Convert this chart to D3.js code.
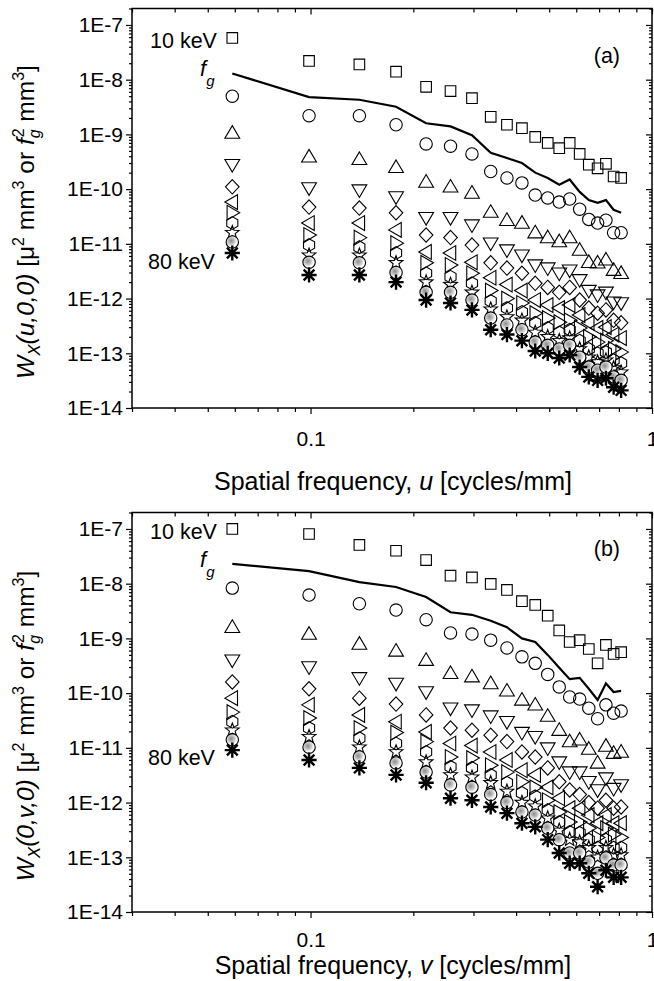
<!DOCTYPE html>
<html>
<head>
<meta charset="utf-8">
<script src="https://cdnjs.cloudflare.com/ajax/libs/d3/7.8.5/d3.min.js"></script>
<style>
  body { margin: 0; background: #fff; }
  svg text { font-family: "Liberation Sans", Arial, sans-serif; fill: #000; }
</style>
</head>
<body>
<svg id="chart" width="654" height="981"></svg>
<script>
// spatial frequency columns (cycles/mm)
const freq = [0.059, 0.099, 0.139, 0.178, 0.218, 0.257, 0.297, 0.337, 0.376, 0.416,
  0.455, 0.495, 0.535, 0.574, 0.614, 0.653, 0.693, 0.733, 0.772, 0.812];

const energies = ["10 keV", "15 keV", "20 keV", "25 keV", "30 keV", "35 keV",
  "40 keV", "50 keV", "60 keV", "70 keV", "80 keV"];
const shapes = ["square", "circle", "triUp", "triDown", "diamond", "triLeft",
  "triRight", "hexagon", "star", "sphere", "asterisk"];

// (a) W_X(u,0,0)
const fgU = [1.3e-8, 4.8e-9, 4.3e-9, 3.2e-9, 1.6e-9, 1.4e-9, 9.7e-10, 4.6e-10, 3.7e-10, 3.0e-10,
  2.0e-10, 1.6e-10, 1.2e-10, 1.5e-10, 8.9e-11, 6.3e-11, 5.6e-11, 6.3e-11, 4.2e-11, 3.7e-11];
const wU10 = [5.8e-8, 2.2e-8, 1.9e-8, 1.4e-8, 7.4e-9, 6.2e-9, 4.6e-9, 2.1e-9, 1.5e-9, 1.3e-9,
  9.0e-10, 7.0e-10, 5.6e-10, 7.0e-10, 4.4e-10, 2.8e-10, 2.4e-10, 2.9e-10, 1.7e-10, 1.6e-10];
const wU15 = [5.0e-9, 2.2e-9, 2.2e-9, 1.5e-9, 6.7e-10, 6.1e-10, 4.4e-10, 2.1e-10, 1.6e-10, 1.3e-10,
  7.8e-11, 6.9e-11, 5.8e-11, 6.6e-11, 4.3e-11, 2.8e-11, 2.4e-11, 2.7e-11, 1.6e-11, 1.6e-11];
const wU20 = [1.06e-9, 3.9e-10, 3.5e-10, 2.5e-10, 1.35e-10, 1.1e-10, 8.5e-11, 3.8e-11, 2.7e-11, 2.4e-11,
  1.6e-11, 1.3e-11, 1.1e-11, 1.3e-11, 7.7e-12, 4.6e-12, 4.5e-12, 5.1e-12, 3.3e-12, 2.9e-12];
const wU25 = [2.8e-10, 1.05e-10, 9.6e-11, 7.2e-11, 3.0e-11, 3.0e-11, 2.2e-11, 1.03e-11, 7.7e-12, 6.2e-12,
  4.1e-12, 3.6e-12, 2.9e-12, 3.3e-12, 2.2e-12, 1.4e-12, 1.16e-12, 1.3e-12, 8.6e-13, 8.3e-13];
const wU30 = [1.1e-10, 4.7e-11, 4.5e-11, 3.7e-11, 1.45e-11, 1.3e-11, 9.5e-12, 4.5e-12, 3.6e-12, 2.9e-12,
  1.9e-12, 1.6e-12, 1.3e-12, 1.6e-12, 9.4e-13, 6.7e-13, 5.4e-13, 6.2e-13, 4.0e-13, 3.6e-13];
const wU35 = [5.8e-11, 2.4e-11, 2.4e-11, 1.8e-11, 7.1e-12, 6.8e-12, 4.6e-12, 2.4e-12, 1.8e-12, 1.4e-12,
  9.4e-13, 7.6e-13, 6.7e-13, 7.6e-13, 5.0e-13, 3.6e-13, 2.9e-13, 3.0e-13, 2.2e-13, 1.9e-13];
const wU40 = [3.7e-11, 1.45e-11, 1.3e-11, 1.03e-11, 4.5e-12, 4.1e-12, 2.9e-12, 1.4e-12, 1.0e-12, 8.3e-13,
  5.4e-13, 4.4e-13, 3.7e-13, 4.0e-13, 2.9e-13, 2.0e-13, 1.6e-13, 1.7e-13, 1.2e-13, 1.05e-13];
const wU50 = [2.4e-11, 9.5e-12, 8.7e-12, 6.8e-12, 2.9e-12, 2.5e-12, 1.9e-12, 9.0e-13, 6.7e-13, 5.7e-13,
  3.6e-13, 2.9e-13, 2.4e-13, 2.7e-13, 1.7e-13, 1.2e-13, 1.0e-13, 1.05e-13, 7.5e-14, 6.6e-14];
const wU60 = [1.6e-11, 6.2e-12, 6.2e-12, 4.5e-12, 2.0e-12, 1.8e-12, 1.3e-12, 6.4e-13, 4.6e-13, 4.0e-13,
  2.4e-13, 2.0e-13, 1.7e-13, 1.9e-13, 1.2e-13, 8.5e-14, 6.9e-14, 7.5e-14, 5.4e-14, 4.5e-14];
const wU70 = [1.08e-11, 4.6e-12, 4.5e-12, 3.0e-12, 1.3e-12, 1.3e-12, 9.4e-13, 4.4e-13, 3.3e-13, 2.7e-13,
  1.6e-13, 1.4e-13, 1.2e-13, 1.4e-13, 8.5e-14, 5.6e-14, 4.9e-14, 5.6e-14, 3.7e-14, 3.2e-14];
const wU80 = [6.8e-12, 2.7e-12, 2.7e-12, 2.0e-12, 9.4e-13, 8.3e-13, 6.2e-13, 2.7e-13, 2.2e-13, 1.7e-13,
  1.1e-13, 1.0e-13, 8.2e-14, 9.3e-14, 5.6e-14, 3.7e-14, 3.2e-14, 3.5e-14, 2.4e-14, 2.1e-14];

// (b) W_X(0,v,0)
const fgV = [2.3e-8, 1.7e-8, 1.07e-8, 8.7e-9, 5.7e-9, 3.0e-9, 2.7e-9, 2.1e-9, 1.6e-9, 1.0e-9,
  8.6e-10, 5.0e-10, 2.9e-10, 1.8e-10, 1.9e-10, 1.2e-10, 7.5e-11, 1.5e-10, 1.05e-10, 1.1e-10];
const wV10 = [1.0e-7, 8.1e-8, 5.1e-8, 4.0e-8, 2.7e-8, 1.4e-8, 1.3e-8, 9.9e-9, 7.7e-9, 4.8e-9,
  4.1e-9, 2.6e-9, 1.4e-9, 8.6e-10, 9.3e-10, 6.4e-10, 3.5e-10, 7.6e-10, 5.2e-10, 5.6e-10];
const wV15 = [8.3e-9, 6.2e-9, 4.3e-9, 3.3e-9, 2.2e-9, 1.26e-9, 1.2e-9, 9.3e-10, 6.7e-10, 4.6e-10,
  3.5e-10, 2.2e-10, 1.3e-10, 8.5e-11, 7.8e-11, 5.3e-11, 3.4e-11, 6.1e-11, 4.3e-11, 4.7e-11];
const wV20 = [1.6e-9, 1.2e-9, 7.9e-10, 5.9e-10, 4.0e-10, 2.3e-10, 2.0e-10, 1.5e-10, 1.1e-10, 7.5e-11,
  6.1e-11, 3.8e-11, 2.1e-11, 1.3e-11, 1.4e-11, 9.5e-12, 5.3e-12, 1.08e-11, 8.0e-12, 8.4e-12];
const wV25 = [4.0e-10, 3.0e-10, 1.9e-10, 1.5e-10, 1.05e-10, 5.3e-11, 4.9e-11, 3.8e-11, 3.0e-11, 1.9e-11,
  1.6e-11, 9.9e-12, 5.5e-12, 3.6e-12, 3.6e-12, 2.4e-12, 1.7e-12, 2.8e-12, 1.8e-12, 2.1e-12];
const wV30 = [1.6e-10, 1.2e-10, 8.1e-11, 6.3e-11, 4.0e-11, 2.3e-11, 2.1e-11, 1.7e-11, 1.3e-11, 8.4e-12,
  6.8e-12, 4.3e-12, 2.4e-12, 1.7e-12, 1.4e-12, 1.0e-12, 7.9e-13, 1.1e-12, 7.9e-13, 8.3e-13];
const wV35 = [8.1e-11, 6.1e-11, 4.0e-11, 3.0e-11, 1.95e-11, 1.2e-11, 1.1e-11, 8.4e-12, 6.0e-12, 3.9e-12,
  3.2e-12, 1.9e-12, 1.2e-12, 7.9e-13, 7.9e-13, 5.9e-13, 4.2e-13, 5.9e-13, 4.2e-13, 4.2e-13];
const wV40 = [4.5e-11, 3.5e-11, 2.3e-11, 1.9e-11, 1.3e-11, 6.8e-12, 6.5e-12, 4.8e-12, 3.6e-12, 2.4e-12,
  1.9e-12, 1.1e-12, 6.7e-13, 4.4e-13, 4.4e-13, 3.4e-13, 2.3e-13, 3.4e-13, 2.6e-13, 2.3e-13];
const wV50 = [3.0e-11, 2.3e-11, 1.5e-11, 1.2e-11, 8.4e-12, 4.5e-12, 4.3e-12, 3.2e-12, 2.3e-12, 1.5e-12,
  1.3e-12, 7.3e-13, 4.4e-13, 2.9e-13, 2.8e-13, 2.1e-13, 1.5e-13, 2.1e-13, 1.5e-13, 1.5e-13];
const wV60 = [2.1e-11, 1.6e-11, 1.03e-11, 8.4e-12, 5.5e-12, 3.2e-12, 2.9e-12, 2.3e-12, 1.6e-12, 1.0e-12,
  8.6e-13, 5.2e-13, 3.1e-13, 2.1e-13, 1.9e-13, 1.5e-13, 1.0e-13, 1.5e-13, 1.1e-13, 1.1e-13];
const wV70 = [1.4e-11, 1.03e-11, 6.8e-12, 5.3e-12, 3.6e-12, 2.1e-12, 1.9e-12, 1.4e-12, 1.0e-12, 6.7e-13,
  5.9e-13, 3.4e-13, 2.1e-13, 1.2e-13, 1.2e-13, 8.2e-14, 5.1e-14, 9.7e-14, 7.2e-14, 7.2e-14];
const wV80 = [9.1e-12, 6.0e-12, 4.3e-12, 3.2e-12, 2.3e-12, 1.2e-12, 1.1e-12, 8.3e-13, 6.4e-13, 4.2e-13,
  3.6e-13, 2.1e-13, 1.2e-13, 7.8e-14, 7.8e-14, 5.1e-14, 2.9e-14, 5.8e-14, 4.3e-14, 4.3e-14];

const svg = d3.select("#chart");

const grad = svg.append("defs").append("radialGradient")
  .attr("id", "sphere").attr("cx", "40%").attr("cy", "40%").attr("r", "60%");
grad.append("stop").attr("offset", "0%").attr("stop-color", "#8c8c8c");
grad.append("stop").attr("offset", "45%").attr("stop-color", "#c4c4c4");
grad.append("stop").attr("offset", "80%").attr("stop-color", "#fff");

const x = d3.scaleLog().domain([0.03, 1]).range([132, 652]);

function shapePath(kind) {
  const p = d3.path();
  const poly = pts => {
    p.moveTo(pts[0][0], pts[0][1]);
    pts.slice(1).forEach(q => p.lineTo(q[0], q[1]));
    p.closePath();
  };
  switch (kind) {
    case "square": p.rect(-5.3, -5.3, 10.6, 10.6); break;
    case "circle":
    case "sphere": p.moveTo(6.2, 0); p.arc(0, 0, 6.2, 0, 2 * Math.PI); break;
    case "triUp": poly([[0, -7.4], [7.4, 5.2], [-7.4, 5.2]]); break;
    case "triDown": poly([[0, 7.4], [7.4, -5.2], [-7.4, -5.2]]); break;
    case "triLeft": poly([[-7.4, 0], [5.2, -7.4], [5.2, 7.4]]); break;
    case "triRight": poly([[7.4, 0], [-5.2, -7.4], [-5.2, 7.4]]); break;
    case "diamond": poly([[0, -7.2], [6.8, 0], [0, 7.2], [-6.8, 0]]); break;
    case "hexagon":
      poly(d3.range(6).map(i => {
        const a = -Math.PI / 2 + i * Math.PI / 3;
        return [6.4 * Math.cos(a), 6.4 * Math.sin(a)];
      }));
      break;
    case "star":
      poly(d3.range(10).map(i => {
        const a = -Math.PI / 2 + i * Math.PI / 5, r = i % 2 ? 3.0 : 7.2;
        return [r * Math.cos(a), r * Math.sin(a)];
      }));
      break;
    case "asterisk":
      d3.range(4).forEach(i => {
        const a = i * Math.PI / 4;
        p.moveTo(-7.6 * Math.cos(a), -7.6 * Math.sin(a));
        p.lineTo(7.6 * Math.cos(a), 7.6 * Math.sin(a));
      });
      break;
  }
  return p.toString();
}

const panels = [
  { top: 8.5, bottom: 408, fg: fgU, series: [wU10, wU15, wU20, wU25, wU30, wU35, wU40, wU50, wU60, wU70, wU80],
    tag: "(a)", tagY: 63, keV10Y: 48, fY: 76, keV80Y: 269, tickY: 446, titleY: 490, ytitleY: 222, axisVar: "u",
    yTitle: "(u,0,0)" },
  { top: 512.5, bottom: 912, fg: fgV, series: [wV10, wV15, wV20, wV25, wV30, wV35, wV40, wV50, wV60, wV70, wV80],
    tag: "(b)", tagY: 556, keV10Y: 539, fY: 567, keV80Y: 765, tickY: 947, titleY: 974, ytitleY: 726, axisVar: "v",
    yTitle: "(0,v,0)" }
];

const fmtY = d => "1E" + Math.round(Math.log10(d));
const isMajor = d => Math.abs(Math.log10(d) - Math.round(Math.log10(d))) < 1e-6;

panels.forEach(p => {
  const y = d3.scaleLog().domain([1e-14, 2e-7]).range([p.bottom, p.top]);
  const g = svg.append("g");
  const x0 = x.range()[0], x1 = x.range()[1];

  const yMajor = y.ticks().filter(isMajor);
  const yMinor = y.ticks().filter(d => !isMajor(d));
  const xMajor = x.ticks().filter(isMajor);
  const xMinor = x.ticks().filter(d => !isMajor(d));

  const clean = sel => {
    sel.select(".domain").remove();
    sel.attr("font-size", null).attr("font-family", null);
    sel.selectAll("line").attr("stroke-width", 1.2);
  };

  // left (outward) and right (inward)
  g.append("g").attr("transform", `translate(${x0},0)`)
    .call(d3.axisLeft(y).tickValues(yMajor).tickSize(6).tickPadding(3).tickFormat(fmtY)).call(clean)
    .selectAll("text").style("font-size", "21px");
  g.append("g").attr("transform", `translate(${x0},0)`)
    .call(d3.axisLeft(y).tickValues(yMinor).tickSize(3).tickFormat("")).call(clean);
  g.append("g").attr("transform", `translate(${x1},0)`)
    .call(d3.axisLeft(y).tickValues(yMajor).tickSize(6).tickFormat("")).call(clean);
  g.append("g").attr("transform", `translate(${x1},0)`)
    .call(d3.axisLeft(y).tickValues(yMinor).tickSize(3).tickFormat("")).call(clean);

  // bottom (outward) and top (inward)
  g.append("g").attr("transform", `translate(0,${p.bottom})`)
    .call(d3.axisBottom(x).tickValues(xMajor).tickSize(6).tickFormat(d3.format("")).tickPadding(0)).call(clean)
    .selectAll("text").attr("dy", null)
    .attr("y", p.tickY - p.bottom).style("font-size", "21px");
  g.append("g").attr("transform", `translate(0,${p.bottom})`)
    .call(d3.axisBottom(x).tickValues(xMinor).tickSize(4).tickFormat("")).call(clean);
  g.append("g").attr("transform", `translate(0,${p.top})`)
    .call(d3.axisBottom(x).tickValues(xMajor).tickSize(6).tickFormat("")).call(clean);
  g.append("g").attr("transform", `translate(0,${p.top})`)
    .call(d3.axisBottom(x).tickValues(xMinor).tickSize(4).tickFormat("")).call(clean);

  g.append("rect")
    .attr("x", x0).attr("y", p.top).attr("width", x1 - x0).attr("height", p.bottom - p.top)
    .attr("fill", "none").attr("stroke", "#000").attr("stroke-width", 1.5);

  // f_g curve
  g.append("path").datum(p.fg)
    .attr("d", d3.line().x((d, i) => x(freq[i])).y(d => y(d)))
    .attr("fill", "none").attr("stroke", "#000").attr("stroke-width", 2.2);

  // energy series
  p.series.forEach((vals, si) => {
    const kind = shapes[si];
    g.append("g").attr("class", "series").attr("data-energy", energies[si])
      .selectAll("path").data(vals).join("path")
      .attr("transform", (d, i) => `translate(${x(freq[i])},${y(d)})`)
      .attr("d", shapePath(kind))
      .attr("fill", kind === "sphere" ? "url(#sphere)" : "none")
      .attr("stroke", "#000")
      .attr("stroke-width", kind === "asterisk" ? 2.4 : 1.1)
      .attr("stroke-linejoin", "miter");
  });

  // annotations
  g.append("text").attr("x", 150).attr("y", p.keV10Y).style("font-size", "21.5px").text(energies[0]);
  g.append("text").attr("x", 148).attr("y", p.keV80Y).style("font-size", "21.5px").text(energies[energies.length - 1]);
  g.append("text").attr("x", 620).attr("y", p.tagY).attr("text-anchor", "end").style("font-size", "21.5px").text(p.tag);
  const fg = g.append("text").attr("x", 200).attr("y", p.fY).style("font-size", "22px");
  fg.append("tspan").style("font-style", "italic").text("f");
  fg.append("tspan").style("font-style", "italic").style("font-size", "15px").attr("dy", 10).text("g");

  // x title
  const xt = g.append("text").attr("x", 393).attr("y", p.titleY).attr("text-anchor", "middle").style("font-size", "25px");
  xt.append("tspan").text("Spatial frequency, ");
  xt.append("tspan").style("font-style", "italic").text(p.axisVar);
  xt.append("tspan").text(" [cycles/mm]");

  // y title
  const yt = g.append("text")
    .attr("transform", `translate(34,${p.ytitleY}) rotate(-90)`)
    .attr("text-anchor", "middle").style("font-size", "24.5px");
  yt.append("tspan").style("font-style", "italic").text("W");
  yt.append("tspan").style("font-style", "italic").style("font-size", "17px").attr("dy", 6).text("X");
  yt.append("tspan").style("font-style", "italic").attr("dy", -6).text(p.yTitle);
  yt.append("tspan").text(" [\u03bc");
  yt.append("tspan").style("font-size", "16px").attr("dy", -10).text("2");
  yt.append("tspan").attr("dy", 10).text(" mm");
  yt.append("tspan").style("font-size", "16px").attr("dy", -10).text("3");
  yt.append("tspan").attr("dy", 10).text(" or ");
  yt.append("tspan").style("font-style", "italic").text("f");
  yt.append("tspan").style("font-style", "italic").style("font-size", "16px").attr("dy", 6).text("g");
  yt.append("tspan").style("font-size", "16px").attr("dx", -8).attr("dy", -16).text("2");
  yt.append("tspan").attr("dy", 10).text(" mm");
  yt.append("tspan").style("font-size", "16px").attr("dy", -10).text("3");
  yt.append("tspan").attr("dy", 10).text("]");
});
</script>
</body>
</html>
